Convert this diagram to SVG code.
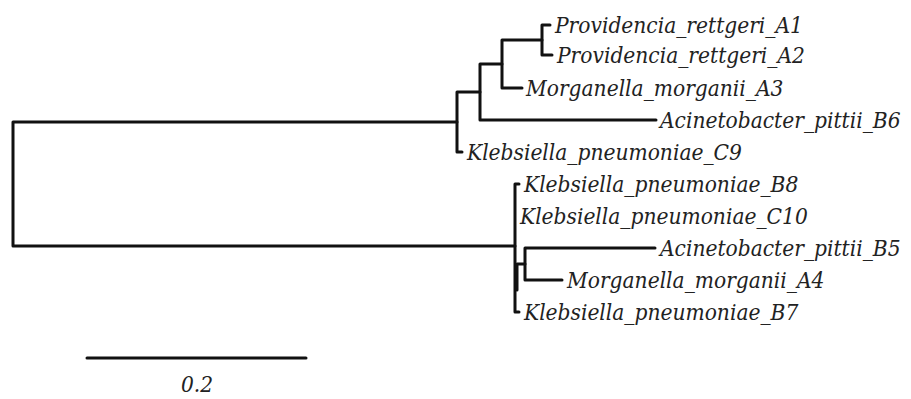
<svg xmlns="http://www.w3.org/2000/svg" width="911" height="399" viewBox="0 0 911 399">
  <style>
    .branch { fill: none; stroke: #111; stroke-width: 3; stroke-linecap: round; stroke-linejoin: round; }
    .leaf { font-family: "DejaVu Serif", "Liberation Serif", serif; font-style: italic; font-stretch: condensed; font-size: 22.5px; fill: #222; }
  </style>
  <rect width="911" height="399" fill="#fff"/>

  <!-- branches of the tree, rectangular layout -->
  <g id="connectors">
    <!-- root -->
    <path class="branch" d="M457 122 H13 V246 H515"/>
    <!-- upper clade -->
    <path class="branch" d="M462 152 H457 V92 H480"/>
    <path class="branch" d="M656 120 H480 V64 H502"/>
    <path class="branch" d="M522 88 H502 V40 H542"/>
    <path class="branch" d="M550 25 H542 V55 H552"/>
    <!-- lower clade -->
    <path class="branch" d="M519 184 H515 V312 H519"/>
    <path class="branch" d="M517 290 V264 H525"/>
    <path class="branch" d="M655 248 H525 V280 H562"/>
    <!-- scale bar -->
    <path class="branch" d="M87 358 H306"/>
  </g>

  <g id="Providencia_rettgeri_A1"><text class="leaf" x="555" y="33">Providencia_rettgeri_A1</text></g>
  <g id="Providencia_rettgeri_A2"><text class="leaf" x="557" y="63">Providencia_rettgeri_A2</text></g>
  <g id="Morganella_morganii_A3"><text class="leaf" x="526" y="96">Morganella_morganii_A3</text></g>
  <g id="Acinetobacter_pittii_B6"><text class="leaf" x="660" y="128">Acinetobacter_pittii_B6</text></g>
  <g id="Klebsiella_pneumoniae_C9"><text class="leaf" x="467" y="160">Klebsiella_pneumoniae_C9</text></g>
  <g id="Klebsiella_pneumoniae_B8"><text class="leaf" x="524" y="192">Klebsiella_pneumoniae_B8</text></g>
  <g id="Klebsiella_pneumoniae_C10"><text class="leaf" x="520" y="224">Klebsiella_pneumoniae_C10</text></g>
  <g id="Acinetobacter_pittii_B5"><text class="leaf" x="660" y="256">Acinetobacter_pittii_B5</text></g>
  <g id="Morganella_morganii_A4"><text class="leaf" x="567" y="288">Morganella_morganii_A4</text></g>
  <g id="Klebsiella_pneumoniae_B7"><text class="leaf" x="524" y="320">Klebsiella_pneumoniae_B7</text></g>

  <g id="scale_label"><text class="leaf" x="197" y="392" text-anchor="middle">0.2</text></g>
</svg>
